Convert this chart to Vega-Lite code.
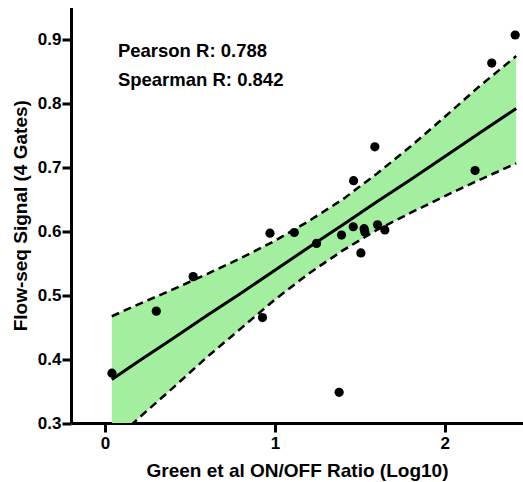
{
  "$schema": "https://vega.github.io/schema/vega-lite/v6.json",
  "autosize": "none",
  "width": 452,
  "height": 415.5,
  "padding": {"left": 71, "top": 7.5, "right": 0, "bottom": 59},
  "background": "white",
  "config": {
    "view": {"stroke": null},
    "font": "Liberation Sans",
    "axis": {
      "grid": false,
      "domainColor": "black",
      "domainWidth": 3,
      "tickColor": "black",
      "tickWidth": 3,
      "tickSize": 9,
      "labelFont": "Liberation Sans",
      "labelFontWeight": "bold",
      "labelFontSize": 17,
      "labelColor": "black",
      "titleFont": "Liberation Sans",
      "titleFontWeight": "bold",
      "titleFontSize": 19,
      "titleColor": "black"
    }
  },
  "datasets": {
    "pts": [
      {"x": 0.041, "y": 0.378}, {"x": 0.302, "y": 0.475}, {"x": 0.519, "y": 0.529},
      {"x": 0.927, "y": 0.465}, {"x": 0.971, "y": 0.597}, {"x": 1.114, "y": 0.598},
      {"x": 1.245, "y": 0.581}, {"x": 1.392, "y": 0.594}, {"x": 1.378, "y": 0.348},
      {"x": 1.461, "y": 0.607}, {"x": 1.463, "y": 0.679}, {"x": 1.525, "y": 0.604},
      {"x": 1.529, "y": 0.599}, {"x": 1.506, "y": 0.566}, {"x": 1.588, "y": 0.732},
      {"x": 1.604, "y": 0.61}, {"x": 1.647, "y": 0.602}, {"x": 2.178, "y": 0.695},
      {"x": 2.276, "y": 0.863}, {"x": 2.414, "y": 0.907}
    ],
    "band": [
      {"x": 0.04, "fit": 0.368, "lo": 0.269, "hi": 0.467},
      {"x": 0.2, "fit": 0.397, "lo": 0.308, "hi": 0.486},
      {"x": 0.4, "fit": 0.432, "lo": 0.355, "hi": 0.509},
      {"x": 0.6, "fit": 0.468, "lo": 0.403, "hi": 0.533},
      {"x": 0.8, "fit": 0.503, "lo": 0.448, "hi": 0.558},
      {"x": 1.0, "fit": 0.539, "lo": 0.493, "hi": 0.585},
      {"x": 1.2, "fit": 0.575, "lo": 0.534, "hi": 0.616},
      {"x": 1.4, "fit": 0.61, "lo": 0.57, "hi": 0.65},
      {"x": 1.6, "fit": 0.646, "lo": 0.602, "hi": 0.69},
      {"x": 1.8, "fit": 0.681, "lo": 0.629, "hi": 0.733},
      {"x": 2.0, "fit": 0.717, "lo": 0.655, "hi": 0.779},
      {"x": 2.2, "fit": 0.753, "lo": 0.68, "hi": 0.826},
      {"x": 2.42, "fit": 0.792, "lo": 0.706, "hi": 0.874}
    ],
    "labels": [
      {"x": 0.076, "y": 0.882, "t": "Pearson R: 0.788"},
      {"x": 0.076, "y": 0.837, "t": "Spearman R: 0.842"}
    ]
  },
  "layer": [
    {
      "data": {"name": "band"},
      "mark": {"type": "area", "color": "#a4ee9f", "clip": true},
      "encoding": {
        "x": {"field": "x", "type": "quantitative", "scale": {"domain": [-0.2, 2.46], "nice": false, "zero": false},
              "axis": {"values": [0, 1, 2], "format": "d", "title": "Green et al ON/OFF Ratio (Log10)", "titlePadding": 10, "labelPadding": 3}},
        "y": {"field": "lo", "type": "quantitative", "scale": {"domain": [0.3, 0.95], "nice": false, "zero": false},
              "axis": {"values": [0.3, 0.4, 0.5, 0.6, 0.7, 0.8, 0.9], "format": ".1f", "title": "Flow-seq Signal (4 Gates)", "titlePadding": 7, "labelPadding": 1}},
        "y2": {"field": "hi"}
      }
    },
    {
      "data": {"name": "band"},
      "mark": {"type": "line", "color": "black", "strokeWidth": 2.5, "strokeDash": [8, 5], "clip": true},
      "encoding": {"x": {"field": "x", "type": "quantitative"}, "y": {"field": "lo", "type": "quantitative"}}
    },
    {
      "data": {"name": "band"},
      "mark": {"type": "line", "color": "black", "strokeWidth": 2.5, "strokeDash": [8, 5], "clip": true},
      "encoding": {"x": {"field": "x", "type": "quantitative"}, "y": {"field": "hi", "type": "quantitative"}}
    },
    {
      "data": {"name": "band"},
      "mark": {"type": "line", "color": "black", "strokeWidth": 3, "clip": true},
      "encoding": {"x": {"field": "x", "type": "quantitative"}, "y": {"field": "fit", "type": "quantitative"}}
    },
    {
      "data": {"name": "pts"},
      "mark": {"type": "circle", "color": "black", "opacity": 1, "size": 85},
      "encoding": {"x": {"field": "x", "type": "quantitative"}, "y": {"field": "y", "type": "quantitative"}}
    },
    {
      "data": {"name": "labels"},
      "mark": {"type": "text", "align": "left", "baseline": "middle", "font": "Liberation Sans", "fontWeight": "bold", "fontSize": 18.5, "color": "black"},
      "encoding": {"x": {"field": "x", "type": "quantitative"}, "y": {"field": "y", "type": "quantitative"}, "text": {"field": "t"}}
    }
  ]
}
